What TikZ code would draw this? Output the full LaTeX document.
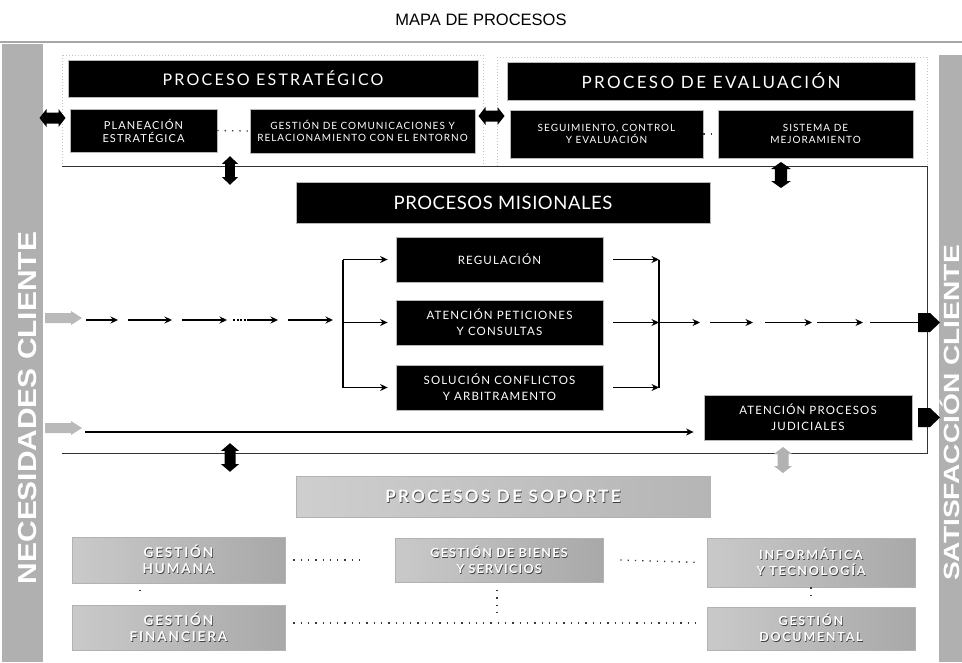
\documentclass[tikz,border=0pt]{standalone}
\usepackage{fontspec}
\setmainfont{Liberation Sans}
\newfontfamily\latoH[LetterSpace=14]{Lato}
\newfontfamily\latoM[LetterSpace=10]{Lato}
\newfontfamily\latoT[LetterSpace=3]{Lato}
\newfontfamily\latoS[LetterSpace=10]{Lato}
\newfontfamily\latoP[LetterSpace=14]{Lato}
\newcommand\shtxt[1]{\makebox[0pt][l]{\hspace{0.7pt}\raisebox{-0.7pt}{\textcolor{black!75}{#1}}}#1}
\usetikzlibrary{arrows.meta}
\begin{document}
\begin{tikzpicture}[x=1pt,y=-1pt,
  blackbox/.style={fill=black, draw=gray!55, line width=0.8pt, text=white, align=center, inner sep=0pt},
  hdr/.style={blackbox, font=\latoH\fontsize{16}{18}\selectfont},
  sbox/.style={blackbox, font=\latoS\fontsize{10}{12.5}\selectfont},
  mbox/.style={blackbox, font=\latoM\fontsize{11.5}{16}\selectfont, minimum width=207pt, minimum height=45pt},
  graybox/.style={left color=gray!42, right color=gray!68, draw=gray!60, line width=0.6pt, text=white, align=center, inner sep=0pt,
     font=\latoP\bfseries\fontsize{12.5}{16}\selectfont},
  sidetxt/.style={rotate=90, text=white, inner sep=0pt, text depth=0pt, anchor=base},
  flow/.style={line width=1.1pt, -{Stealth[length=7.5pt,width=7pt]}},
  link/.style={line width=1.1pt},
  dots/.style={line width=1.3pt, dash pattern=on 1.3pt off 6pt, gray!45!black},
  frame/.style={line width=0.9pt, black!80},
  faint/.style={line width=0.6pt, gray!45, dash pattern=on 1pt off 2pt},
  dblarrow/.pic={\path[pic actions] (-13,0)--(-6,-9)--(-6,-5.5)--(6,-5.5)--(6,-9)--(13,0)--(6,9)--(6,5.5)--(-6,5.5)--(-6,9)--cycle;},
  inarrow/.pic={\path[pic actions] (-18,-5)--(8,-5)--(8,-7)--(19,0)--(8,7)--(8,5)--(-18,5)--cycle;},
  outarrow/.pic={\path[pic actions] (-11,-9.5)--(1,-9.5)--(11,0)--(1,9.5)--(-11,9.5)--cycle;}
]
\useasboundingbox (0,0) rectangle (962,662);
\fill[white] (0,0) rectangle (962,662);

% title
\node[font=\fontsize{16.5}{19}\selectfont] (title) at (481,20) {MAPA DE PROCESOS};
\draw[gray!70, line width=1.6pt] (0,42) -- (962,42);

% side bars
\fill[gray!62] (2,44) rectangle (43,662);
\fill[gray!62] (939,55) rectangle (962,662);
\node[sidetxt, font=\bfseries\fontsize{26}{30}\selectfont] (nec) at (36.5,408) {\scalebox{1.15}[1]{NECESIDADES CLIENTE}};
\node[sidetxt, font=\bfseries\fontsize{22}{26}\selectfont] (sat) at (959,413) {\scalebox{1.28}[1]{SATISFACCIÓN CLIENTE}};

% group frames
\draw[faint] (62,55) rectangle (483,166);
\draw[faint] (497,57) rectangle (927,166);
\draw[frame] (62,166) -- (927,166) -- (927,453) -- (62,453);

% strategic
\node[hdr, minimum width=410pt, minimum height=37pt] (pe) at (273,78.5) {PROCESO ESTRATÉGICO};
\node[sbox, font=\latoS\fontsize{11}{13}\selectfont, minimum width=147pt, minimum height=43pt] (pe1) at (143.5,130.5) {PLANEACIÓN\\ESTRATÉGICA};
\node[sbox, minimum width=225pt, minimum height=44pt] (pe2) at (362.5,131) {GESTIÓN DE COMUNICACIONES Y\\RELACIONAMIENTO CON EL ENTORNO};
\draw[dots] (pe1.east) -- (pe2.west);

% evaluation
\node[hdr, font=\latoH\fontsize{17}{19}\selectfont, minimum width=408pt, minimum height=38pt] (pv) at (711,81) {PROCESO DE EVALUACIÓN};
\node[sbox, minimum width=193pt, minimum height=48pt] (pv1) at (606.5,134) {SEGUIMIENTO, CONTROL\\Y EVALUACIÓN};
\node[sbox, minimum width=195pt, minimum height=48pt] (pv2) at (815.5,134) {SISTEMA DE\\MEJORAMIENTO};
\draw[dots] (pv1.east) -- (pv2.west);

% double arrows
\pic[fill=black] at (52.5,118) {dblarrow};
\pic[fill=black] at (491.5,116) {dblarrow};
\pic[fill=black, rotate=90, yscale=0.9, xscale=1.1] at (230,170.5) {dblarrow};
\pic[fill=black, rotate=90, yscale=1.1] at (781,175) {dblarrow};
\pic[fill=black, rotate=90, xscale=1.1] at (230,457.5) {dblarrow};
\pic[fill=gray!60, rotate=90] at (783,460) {dblarrow};

% misionales
\node[blackbox, font=\latoT\fontsize{18.5}{22}\selectfont, minimum width=414pt, minimum height=41pt] (pm) at (503,202.5) {PROCESOS MISIONALES};
\node[mbox] (reg) at (499.5,259.5) {REGULACIÓN};
\node[mbox] (ate) at (499.5,322.5) {ATENCIÓN PETICIONES\\Y CONSULTAS};
\node[mbox] (sol) at (499.5,387.5) {SOLUCIÓN CONFLICTOS\\Y ARBITRAMENTO};
\node[mbox, minimum width=208pt] (jud) at (808,417.5) {ATENCIÓN PROCESOS\\JUDICIALES};

% incoming flow
\pic[fill=gray!55] at (63,318) {inarrow};
\coordinate (a0) at (86,320);
\coordinate (a1) at (118,320);
\coordinate (b0) at (128,320);
\coordinate (b1) at (172,320);
\coordinate (c0) at (182,320);
\coordinate (c1) at (227,320);
\coordinate (d0) at (233,320);
\coordinate (dm) at (247,320);
\coordinate (d1) at (278,320);
\coordinate (e0) at (288,320);
\coordinate (e1) at (333,320);
\draw[flow] (a0) -- (a1);
\draw[flow] (b0) -- (b1);
\draw[flow] (c0) -- (c1);
\draw[line width=1.1pt, dash pattern=on 2pt off 1.5pt] (d0) -- (dm);
\draw[flow] (dm) -- (d1);
\draw[flow] (e0) -- (e1);
\coordinate (sp1) at (343,259.5);
\coordinate (sp2) at (343,322.5);
\coordinate (sp3) at (343,387.5);
\draw[link] (sp1) -- (sp3);
\draw[flow] (sp1) -- ([xshift=-8pt]reg.west);
\draw[flow] (sp2) -- ([xshift=-8pt]ate.west);
\draw[flow] (sp3) -- ([xshift=-8pt]sol.west);

% outgoing
\coordinate (j1) at (659,259.5);
\coordinate (j2) at (659,322.5);
\coordinate (j3) at (659,387.5);
\draw[link] (j1) -- (j3);
\draw[flow] ([xshift=10pt]reg.east) -- (j1);
\draw[flow] ([xshift=10pt]ate.east) -- (j2);
\draw[flow] ([xshift=10pt]sol.east) -- (j3);
\coordinate (f1) at (700,322.5);
\coordinate (g0) at (710,322.5);
\coordinate (g1) at (753,322.5);
\coordinate (h0) at (765,322.5);
\coordinate (h1) at (812,322.5);
\coordinate (i0) at (817,322.5);
\coordinate (i1) at (863,322.5);
\coordinate (k0) at (870,322.5);
\coordinate (k1) at (918,322.5);
\draw[flow] (j2) -- (f1);
\draw[flow] (g0) -- (g1);
\draw[flow] (h0) -- (h1);
\draw[flow] (i0) -- (i1);
\draw[link] (k0) -- (k1);
\pic[fill=black] at (929,322.5) {outarrow};

% judicial flow
\pic[fill=gray!55] at (63,428) {inarrow};
\coordinate (l0) at (85,432);
\draw[flow] (l0) -- ([xshift=-10pt]jud.west |- l0);
\pic[fill=black] at (929,417.5) {outarrow};

% soporte
\node[graybox, left color=gray!38, right color=gray!58, font=\latoP\bfseries\fontsize{17}{20}\selectfont, minimum width=414pt, minimum height=41pt] (ps) at (503,496.5) {\shtxt{PROCESOS DE SOPORTE}};
\node[graybox, font=\latoP\bfseries\fontsize{13.5}{16}\selectfont, minimum width=213pt, minimum height=46pt] (gh) at (178.5,560) {\shtxt{GESTIÓN}\\\shtxt{HUMANA}};
\node[graybox, font=\latoP\bfseries\fontsize{13.5}{16}\selectfont, minimum width=213pt, minimum height=45pt] (gf) at (178.5,627.5) {\shtxt{GESTIÓN}\\\shtxt{FINANCIERA}};
\node[graybox, font=\latoM\bfseries\fontsize{12.5}{16}\selectfont, minimum width=208pt, minimum height=44pt] (gb) at (499,560) {\shtxt{GESTIÓN DE BIENES}\\\shtxt{Y SERVICIOS}};
\node[graybox, minimum width=208pt, minimum height=49pt] (gi) at (811,562.5) {\shtxt{INFORMÁTICA}\\\shtxt{Y TECNOLOGÍA}};
\node[graybox, minimum width=208pt, minimum height=43pt] (gd) at (811,628.5) {\shtxt{GESTIÓN}\\\shtxt{DOCUMENTAL}};

\draw[dots] ([xshift=8pt]gh.east) -- ([xshift=-35pt]gb.west);
\draw[dots] ([xshift=17pt]gb.east) -- ([xshift=-7pt]gi.west);
\draw[dots] ([xshift=8pt]gf.east |- 0,623) -- ([xshift=-7pt]gd.west |- 0,623);
\draw[dots] (497,590) -- (497,616);
\draw[dots] (140,590) -- (140,595);
\draw[dots] (gi.south) -- ++(0,8);
\end{tikzpicture}
\end{document}
